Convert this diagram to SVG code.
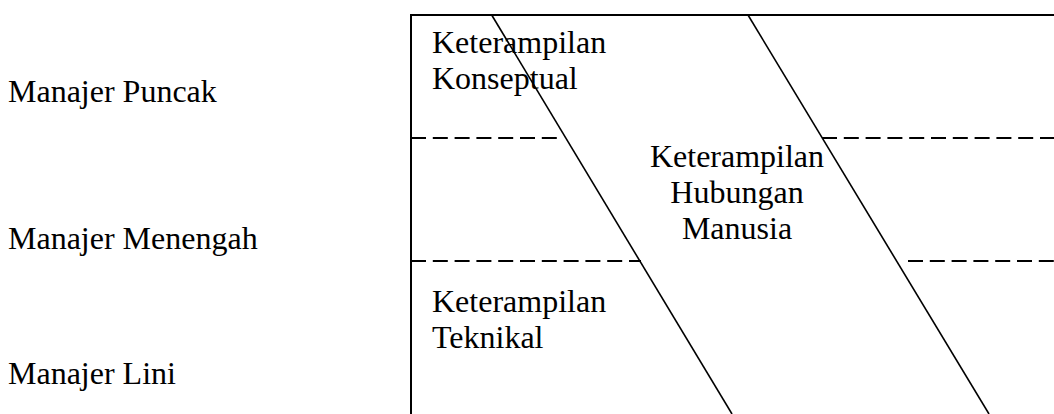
<svg xmlns="http://www.w3.org/2000/svg" width="1054" height="414" viewBox="0 0 1054 414">
  <style>
    .t { font-family: "Liberation Serif", "Times New Roman", Tinos, "Noto Serif", "DejaVu Serif", FreeSerif, "Nimbus Roman", Times, serif; font-size: 32px; fill: #000; }
    .frame { fill: none; stroke: #000; stroke-width: 2; }
    .split { stroke: #000; stroke-width: 1.6; fill: none; }
    .level { stroke: #000; stroke-width: 2; stroke-dasharray: 15 6.8; fill: none; }
    .mid { text-anchor: middle; }
  </style>
  <rect width="1054" height="414" fill="#fff"/>

  <!-- management levels -->
  <g id="level-top" class="t"><text x="8" y="102">Manajer Puncak</text></g>
  <g id="level-middle" class="t"><text x="8" y="249">Manajer Menengah</text></g>
  <g id="level-line" class="t"><text x="8" y="384">Manajer Lini</text></g>

  <!-- skill chart frame and dividers -->
  <g id="connectors">
    <path class="frame" d="M411,414 V15 H1060"/>
    <line class="split" x1="491.7" y1="15" x2="732" y2="414"/>
    <line class="split" x1="748" y1="15" x2="989" y2="414"/>
    <line class="level" x1="411" y1="138" x2="560" y2="138"/>
    <line class="level" x1="822" y1="138" x2="1054" y2="138"/>
    <line class="level" x1="411" y1="261" x2="641" y2="261"/>
    <line class="level" x1="908" y1="261" x2="1054" y2="261"/>
  </g>

  <!-- skill areas -->
  <g id="skill-conceptual" class="t">
    <text x="432" y="53">Keterampilan</text>
    <text x="432" y="89">Konseptual</text>
  </g>
  <g id="skill-human" class="t">
    <text class="mid" x="737" y="167">Keterampilan</text>
    <text class="mid" x="737" y="203">Hubungan</text>
    <text class="mid" x="737" y="239">Manusia</text>
  </g>
  <g id="skill-technical" class="t">
    <text x="432" y="312">Keterampilan</text>
    <text x="432" y="348">Teknikal</text>
  </g>
</svg>
